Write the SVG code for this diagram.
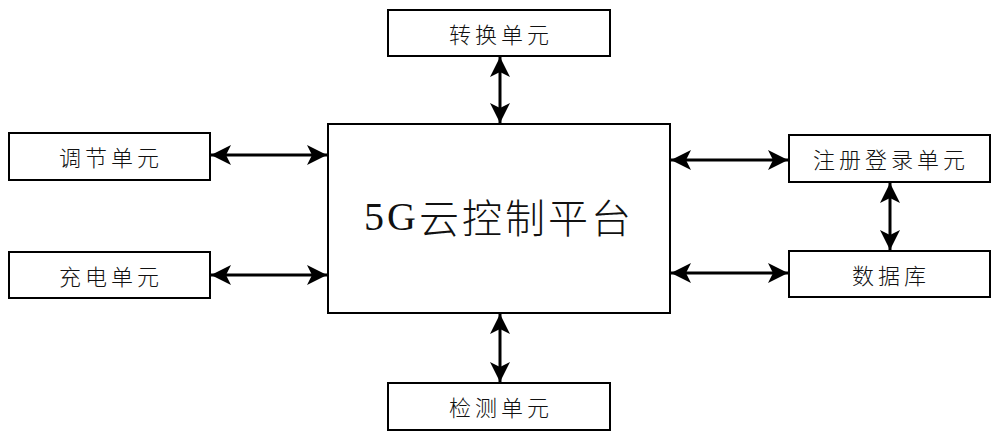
<svg xmlns="http://www.w3.org/2000/svg" width="1000" height="440" viewBox="0 0 1000 440">
<style>
.box{fill:#fff;stroke:#000;stroke-width:2}
.lbl{font-family:"Noto Sans CJK SC","Noto Sans CJK JP",sans-serif;font-weight:300;font-size:22px;fill:#111;text-anchor:middle;dominant-baseline:central;letter-spacing:4px}
.big{font-family:"Liberation Serif","Noto Sans CJK SC",serif;font-size:40px;fill:#111;text-anchor:middle;dominant-baseline:central;letter-spacing:3px}
.big .cjk{font-family:"Noto Sans CJK SC",sans-serif;font-weight:300}
.conn line{stroke:#000;stroke-width:3;marker-start:url(#ah);marker-end:url(#ah)}
</style>
<defs>
<marker id="ah" markerUnits="userSpaceOnUse" markerWidth="22" markerHeight="22" refX="20" refY="10" orient="auto-start-reverse" viewBox="0 0 22 20">
<path d="M0,0 L20,10 L0,20 L5,10 Z" fill="#000"/>
</marker>
</defs>
<rect width="1000" height="440" fill="#fff"/>
<g id="main"><rect class="box" x="328" y="124" width="342" height="189"/><text class="big" x="499" y="216">5G<tspan class="cjk">云控制平台</tspan></text></g>
<g id="zhuanhuan"><rect class="box" x="388" y="10" width="222" height="46"/><text class="lbl" x="501" y="33">转换单元</text></g>
<g id="tiaojie"><rect class="box" x="9" y="133" width="201" height="47"/><text class="lbl" x="111" y="156">调节单元</text></g>
<g id="chongdian"><rect class="box" x="9" y="252" width="201" height="46"/><text class="lbl" x="111" y="275">充电单元</text></g>
<g id="zhuce"><rect class="box" x="789" y="135" width="201" height="47"/><text class="lbl" x="891" y="158">注册登录单元</text></g>
<g id="shujuku"><rect class="box" x="789" y="251" width="201" height="46"/><text class="lbl" x="891" y="274">数据库</text></g>
<g id="jiance"><rect class="box" x="388" y="383" width="222" height="47"/><text class="lbl" x="501" y="406">检测单元</text></g>
<g class="conn">
<line x1="500" y1="57" x2="500" y2="123"/>
<line x1="500" y1="314" x2="500" y2="382"/>
<line x1="211" y1="155" x2="327" y2="155"/>
<line x1="211" y1="275" x2="327" y2="275"/>
<line x1="671" y1="160" x2="788" y2="160"/>
<line x1="671" y1="273" x2="788" y2="273"/>
<line x1="890" y1="183" x2="890" y2="250"/>
</g>
</svg>
